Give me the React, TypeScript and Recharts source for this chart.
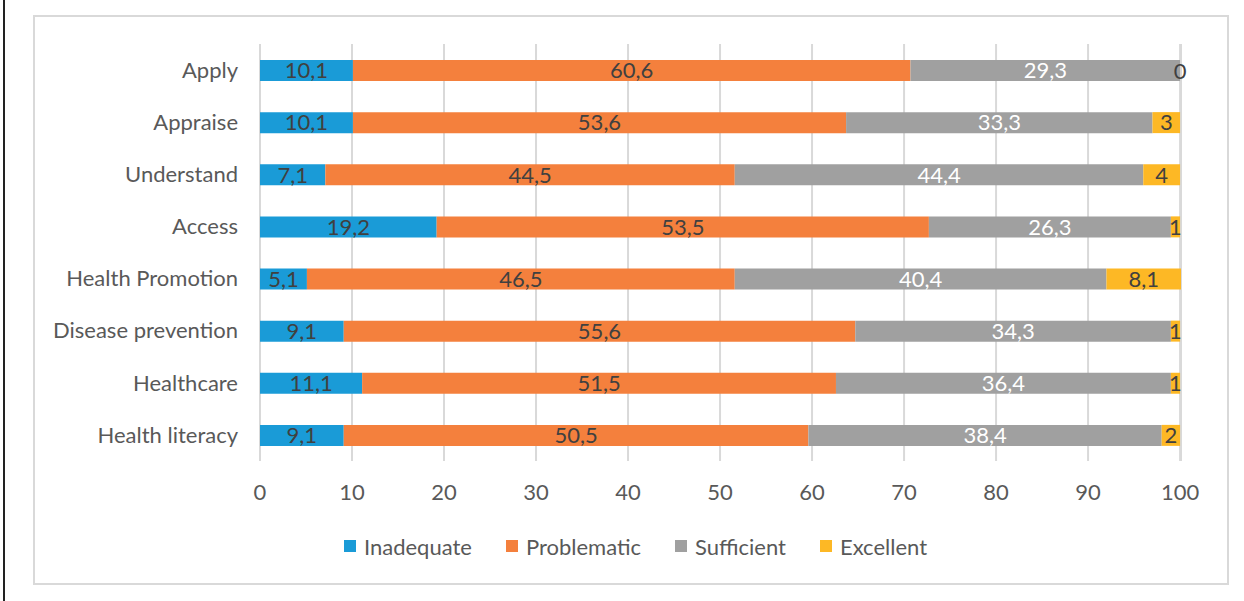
import React from "react";
import {
  BarChart,
  Bar,
  XAxis,
  YAxis,
  CartesianGrid,
  Legend,
  LabelList,
} from "recharts";

const categories = [
  "Apply",
  "Appraise",
  "Understand",
  "Access",
  "Health Promotion",
  "Disease prevention",
  "Healthcare",
  "Health literacy",
];
const inadequate = [10.1, 10.1, 7.1, 19.2, 5.1, 9.1, 11.1, 9.1];
const problematic = [60.6, 53.6, 44.5, 53.5, 46.5, 55.6, 51.5, 50.5];
const sufficient = [29.3, 33.3, 44.4, 26.3, 40.4, 34.3, 36.4, 38.4];
const excellent = [0, 3, 4, 1, 8.1, 1, 1, 2];
const xTicks = [0, 10, 20, 30, 40, 50, 60, 70, 80, 90, 100];

const data = categories.map((name, i) => ({
  name,
  Inadequate: inadequate[i],
  Problematic: problematic[i],
  Sufficient: sufficient[i],
  Excellent: excellent[i],
}));

const FONT = "Lato, 'Open Sans', sans-serif";
const TEXT = "#595959";

const series = [
  { key: "Inadequate", color: "#1A9BD7", label: "#404040" },
  { key: "Problematic", color: "#F4803D", label: "#404040" },
  { key: "Sufficient", color: "#A0A0A0", label: "#FFFFFF" },
  { key: "Excellent", color: "#FDB825", label: "#404040" },
];

const fmt = (v: any) => String(v).replace(".", ",");

// zero-width Excellent segments get no label of their own, so draw it at the end of Sufficient
const zeroLabel = (props: any) => {
  const { x, y, width, height, value } = props;
  if (value !== 0) return null;
  return (
    <text
      x={Number(x) + Number(width)}
      y={Number(y) + Number(height) / 2}
      textAnchor="middle"
      dominantBaseline="central"
      fill="#404040"
      fontSize={22}
      fontFamily={FONT}
    >
      {fmt(value)}
    </text>
  );
};

const renderLegend = (props: any) => {
  const order = series.map((s) => s.key);
  const payload = [...(props.payload || [])].sort(
    (a: any, b: any) => order.indexOf(a.value) - order.indexOf(b.value)
  );
  return (
    <div
      style={{
        display: "flex",
        justifyContent: "center",
        alignItems: "center",
        height: 24,
        paddingLeft: 50,
        fontFamily: FONT,
        fontSize: 22,
        color: TEXT,
      }}
    >
      {payload.map((p: any) => (
        <div
          key={p.value}
          style={{ display: "flex", alignItems: "center", margin: "0 17px" }}
        >
          <span
            style={{
              width: 12,
              height: 12,
              background: p.color,
              display: "inline-block",
              marginRight: 8,
            }}
          />
          <span>{p.value}</span>
        </div>
      ))}
    </div>
  );
};

export default function App() {
  return (
    <div
      style={{
        position: "absolute",
        left: 0,
        top: 0,
        width: 1244,
        height: 601,
        background: "#fff",
      }}
    >
      <div
        style={{
          position: "absolute",
          left: 3,
          top: 0,
          width: 2,
          height: 601,
          background: "#222",
        }}
      />
      <div
        style={{
          position: "absolute",
          left: 33,
          top: 15,
          width: 1192,
          height: 566,
          border: "2px solid #D9D9D9",
        }}
      >
        <BarChart
          width={1192}
          height={566}
          data={data}
          layout="vertical"
          margin={{ top: 27, right: 46, left: 5, bottom: 25 }}
          barSize={21}
        >
          <CartesianGrid
            horizontal={false}
            stroke="#D9D9D9"
            strokeWidth={2}
          />
          <XAxis
            type="number"
            domain={[0, 100]}
            ticks={xTicks}
            axisLine={false}
            tickLine={false}
            tickMargin={17}
            height={73}
            tick={{ fill: TEXT, fontSize: 22, fontFamily: FONT }}
          />
          <YAxis
            type="category"
            dataKey="name"
            width={220}
            axisLine={false}
            tickLine={false}
            tickMargin={16}
            tick={{ fill: TEXT, fontSize: 22, fontFamily: FONT }}
          />
          <Legend verticalAlign="bottom" content={renderLegend} />
          {series.map((s) => (
            <Bar
              key={s.key}
              dataKey={s.key}
              stackId="a"
              fill={s.color}
              isAnimationActive={false}
            >
              <LabelList
                dataKey={s.key}
                position="center"
                formatter={fmt}
                fill={s.label}
                fontSize={22}
                fontFamily={FONT}
              />
              {s.key === "Sufficient" && (
                <LabelList dataKey="Excellent" content={zeroLabel} />
              )}
            </Bar>
          ))}
        </BarChart>
      </div>
    </div>
  );
}
